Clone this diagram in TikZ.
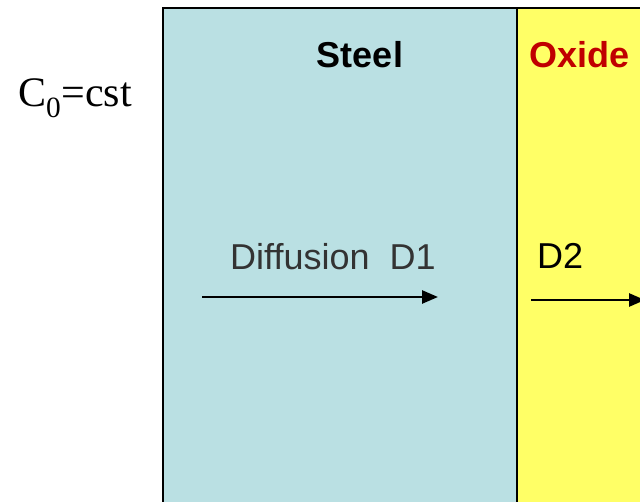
\documentclass[tikz,border=0pt]{standalone}
\usepackage{fontspec}
\setmainfont[Ligatures=NoCommon]{Liberation Sans}
\newfontfamily\timesf{Liberation Serif}
\usetikzlibrary{arrows.meta}
\definecolor{steelc}{RGB}{186,224,227}
\definecolor{oxidec}{RGB}{255,255,102}
\definecolor{oxred}{RGB}{192,0,0}
\definecolor{txtgray}{RGB}{51,51,51}
\begin{document}
\begin{tikzpicture}[x=1pt,y=-1pt,
  layer/.style={line width=1.3pt,draw=black},
  lbl/.style={inner sep=0pt,anchor=base,font=\fontsize{36}{40}\selectfont},
  flux/.style={line width=2.6pt,-{Triangle[length=16pt,width=13pt]}}]
\useasboundingbox (0,0) rectangle (640,502);
\fill[white] (0,0) rectangle (640,502);
\draw[layer,fill=steelc] (163,8) rectangle (517,510);
\draw[layer,fill=oxidec] (517,8) rectangle (660,510);
\node[lbl,font=\fontsize{36}{40}\selectfont\bfseries] (steel) at (360,68) {Steel};
\node[lbl,font=\fontsize{36}{40}\selectfont\bfseries,text=oxred,anchor=base west] (oxide) at (529,68) {Oxide};
\node[inner sep=0pt,anchor=base west,font=\timesf\fontsize{42}{46}\selectfont] (c0) at (18,107) {C\textsubscript{0}=cst};
\node[lbl,text=txtgray,anchor=base west] (d1) at (230,270) {Diffusion\ \ D1};
\node[lbl,anchor=base west] (d2) at (537,269) {D2};
\coordinate (a1s) at (202,297);
\coordinate (a1e) at (438,297);
\coordinate (a2s) at (531,300);
\coordinate (a2e) at (645,300);
\draw[flux] (a1s) -- (a1e);
\draw[flux] (a2s) -- (a2e);
\end{tikzpicture}
\end{document}
